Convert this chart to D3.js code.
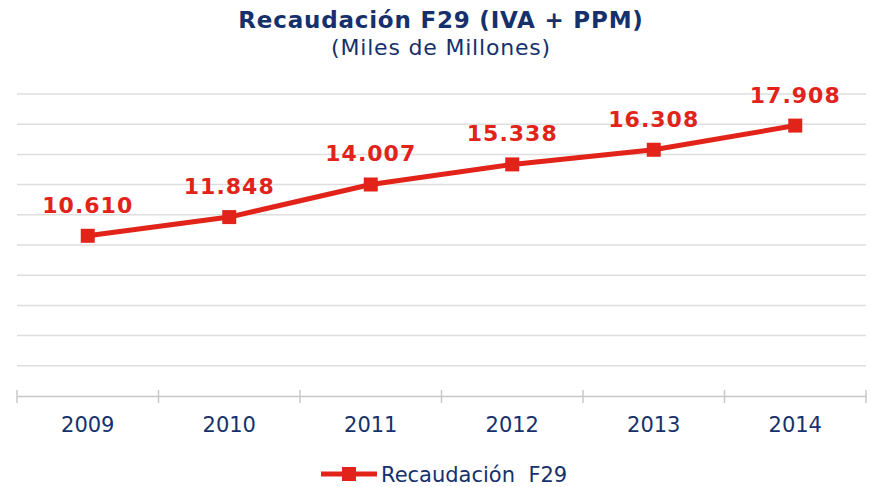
<!DOCTYPE html>
<meta charset="utf-8">
<script src="https://d3js.org/d3.v7.min.js"></script>
<style>
  body { margin: 0; background: #fff; }
  text { font-family: "DejaVu Sans", Verdana, sans-serif; }
</style>
<div id="chart"></div>
<script>

// data
var years = ["2009", "2010", "2011", "2012", "2013", "2014"];
var values = [10.610, 11.848, 14.007, 15.338, 16.308, 17.908];
var labels = ["10.610", "11.848", "14.007", "15.338", "16.308", "17.908"];
var yTicks = [2, 4, 6, 8, 10, 12, 14, 16, 18, 20];

var W = 871, H = 487;
var navy = "#16306b", red = "#e2231a";

var svg = d3.select("#chart").append("svg")
  .attr("width", W).attr("height", H);

var x = d3.scaleBand().domain(years).range([17, 866]);
var y = d3.scaleLinear().domain([0, 20]).range([396, 94]);

// gridlines
svg.append("g").selectAll("line")
  .data(yTicks).enter().append("line")
    .attr("x1", 17).attr("x2", 866)
    .attr("y1", function(d) { return y(d); })
    .attr("y2", function(d) { return y(d); })
    .attr("stroke", "#dedede").attr("stroke-width", 1.5);

// x axis
var xAxis = svg.append("g")
  .attr("transform", "translate(0," + y(0) + ")")
  .call(d3.axisBottom(x).tickSize(0).tickPadding(21));
xAxis.select(".domain").attr("stroke", "#c8c8c8").attr("stroke-width", 1.5);
xAxis.selectAll("text")
  .style("font-family", "'DejaVu Sans', Verdana, sans-serif")
  .style("font-size", "21px").attr("fill", navy);

// tick separators between categories
var bounds = years.map(function(d) { return x(d); }).concat([x.range()[1]]);
svg.append("g").selectAll("line")
  .data(bounds).enter().append("line")
    .attr("x1", function(d) { return d; }).attr("x2", function(d) { return d; })
    .attr("y1", y(0) - 6).attr("y2", y(0) + 7)
    .attr("stroke", "#c8c8c8").attr("stroke-width", 1.5);

var cx = function(d, i) { return x(years[i]) + x.bandwidth() / 2; };

// line
var line = d3.line()
  .x(function(d, i) { return cx(d, i); })
  .y(function(d) { return y(d); });
svg.append("path")
  .datum(values)
  .attr("d", line)
  .attr("fill", "none")
  .attr("stroke", red)
  .attr("stroke-width", 5);

// markers
svg.append("g").selectAll("rect")
  .data(values).enter().append("rect")
    .attr("x", function(d, i) { return cx(d, i) - 7; })
    .attr("y", function(d) { return y(d) - 7; })
    .attr("width", 14).attr("height", 14)
    .attr("fill", red);

// value labels
svg.append("g").selectAll("text")
  .data(values).enter().append("text")
    .attr("x", function(d, i) { return cx(d, i); })
    .attr("y", function(d) { return y(d) - 23; })
    .attr("text-anchor", "middle")
    .attr("font-size", "22px").attr("font-weight", "bold")
    .attr("letter-spacing", "1px")
    .attr("fill", red)
    .text(function(d, i) { return labels[i]; });

// titles
svg.append("text")
  .attr("x", 441).attr("y", 28)
  .attr("text-anchor", "middle")
  .attr("font-size", "23px").attr("font-weight", "bold")
  .attr("letter-spacing", "0.8px")
  .attr("fill", navy)
  .text("Recaudación F29 (IVA + PPM)");
svg.append("text")
  .attr("x", 441).attr("y", 55)
  .attr("text-anchor", "middle")
  .attr("font-size", "22px")
  .attr("letter-spacing", "0.8px")
  .attr("fill", navy)
  .text("(Miles de Millones)");

// legend
var lg = svg.append("g");
lg.append("line")
  .attr("x1", 321).attr("x2", 377).attr("y1", 474).attr("y2", 474)
  .attr("stroke", red).attr("stroke-width", 5);
lg.append("rect")
  .attr("x", 342).attr("y", 467).attr("width", 14).attr("height", 14)
  .attr("fill", red);
lg.append("text")
  .attr("x", 381).attr("y", 482)
  .attr("font-size", "21px").attr("fill", navy)
  .attr("xml:space", "preserve")
  .text("Recaudación  F29");

</script>
